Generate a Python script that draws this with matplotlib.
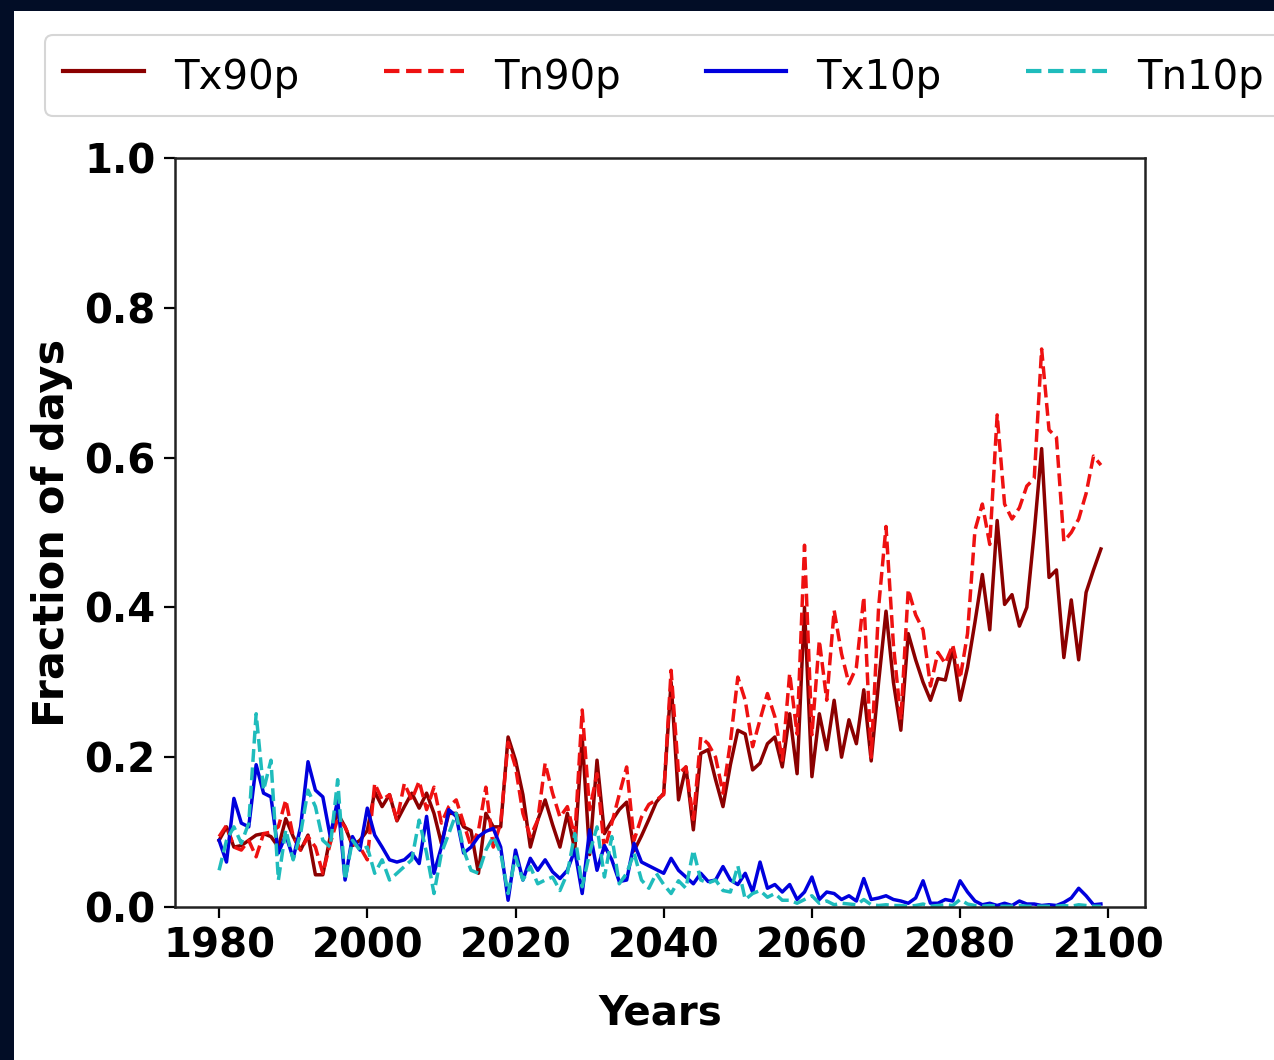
import numpy as np
import matplotlib
matplotlib.use("Agg")
import matplotlib.pyplot as plt
from matplotlib.patches import Rectangle

years = list(range(1980, 2100))

tx90p = [0.089, 0.107, 0.080, 0.082, 0.089, 0.096, 0.098, 0.094, 0.080, 0.118,
         0.094, 0.076, 0.096, 0.043, 0.043, 0.094, 0.125, 0.107, 0.082, 0.089,
         0.102, 0.154, 0.134, 0.150, 0.115, 0.134, 0.152, 0.132, 0.152, 0.125,
         0.085, 0.125, 0.125, 0.107, 0.102, 0.045, 0.125, 0.107, 0.107, 0.227,
         0.196, 0.150, 0.080, 0.116, 0.143, 0.110, 0.080, 0.125, 0.076, 0.227,
         0.070, 0.196, 0.098, 0.115, 0.130, 0.140, 0.075, 0.095, 0.117, 0.140,
         0.152, 0.300, 0.143, 0.187, 0.103, 0.205, 0.210, 0.170, 0.134, 0.190,
         0.236, 0.231, 0.183, 0.192, 0.218, 0.227, 0.187, 0.258, 0.178, 0.400,
         0.174, 0.258, 0.210, 0.276, 0.200, 0.250, 0.218, 0.290, 0.195, 0.300,
         0.395, 0.300, 0.236, 0.365, 0.330, 0.300, 0.276, 0.305, 0.303, 0.345,
         0.276, 0.320, 0.380, 0.444, 0.370, 0.516, 0.404, 0.417, 0.375, 0.400,
         0.500, 0.612, 0.440, 0.450, 0.333, 0.410, 0.330, 0.420, 0.450, 0.478]

tn90p = [0.094, 0.109, 0.080, 0.076, 0.089, 0.067, 0.098, 0.100, 0.107, 0.143,
         0.094, 0.076, 0.094, 0.080, 0.045, 0.085, 0.118, 0.107, 0.085, 0.080,
         0.063, 0.165, 0.143, 0.150, 0.116, 0.165, 0.143, 0.168, 0.130, 0.160,
         0.112, 0.134, 0.143, 0.112, 0.080, 0.102, 0.160, 0.080, 0.112, 0.220,
         0.187, 0.125, 0.094, 0.116, 0.192, 0.152, 0.120, 0.134, 0.094, 0.263,
         0.130, 0.178, 0.076, 0.112, 0.150, 0.187, 0.089, 0.120, 0.137, 0.143,
         0.150, 0.316, 0.178, 0.187, 0.117, 0.227, 0.218, 0.200, 0.152, 0.220,
         0.307, 0.276, 0.214, 0.250, 0.285, 0.254, 0.196, 0.312, 0.231, 0.483,
         0.230, 0.356, 0.276, 0.396, 0.338, 0.298, 0.320, 0.414, 0.200, 0.400,
         0.508, 0.350, 0.250, 0.424, 0.390, 0.370, 0.295, 0.340, 0.325, 0.350,
         0.305, 0.365, 0.503, 0.538, 0.484, 0.657, 0.538, 0.518, 0.533, 0.562,
         0.572, 0.745, 0.637, 0.627, 0.488, 0.500, 0.518, 0.552, 0.602, 0.590]

tx10p = [0.089, 0.060, 0.145, 0.112, 0.107, 0.190, 0.152, 0.147, 0.072, 0.096,
         0.065, 0.107, 0.194, 0.156, 0.147, 0.094, 0.143, 0.036, 0.094, 0.076,
         0.132, 0.096, 0.080, 0.063, 0.060, 0.063, 0.072, 0.058, 0.121, 0.045,
         0.080, 0.130, 0.121, 0.072, 0.080, 0.094, 0.101, 0.105, 0.080, 0.009,
         0.076, 0.036, 0.065, 0.049, 0.063, 0.047, 0.038, 0.049, 0.076, 0.018,
         0.103, 0.049, 0.082, 0.063, 0.034, 0.036, 0.085, 0.060, 0.055, 0.050,
         0.045, 0.065, 0.049, 0.040, 0.031, 0.045, 0.034, 0.036, 0.054, 0.036,
         0.030, 0.045, 0.020, 0.060, 0.025, 0.030, 0.020, 0.030, 0.010, 0.020,
         0.040, 0.010, 0.020, 0.018, 0.010, 0.015, 0.008, 0.038, 0.010, 0.012,
         0.015, 0.010, 0.008, 0.005, 0.012, 0.035, 0.005, 0.005, 0.010, 0.008,
         0.035, 0.020, 0.008, 0.003, 0.005, 0.002, 0.005, 0.002, 0.008, 0.004,
         0.004, 0.002, 0.003, 0.002, 0.006, 0.012, 0.025, 0.015, 0.003, 0.004]

tn10p = [0.049, 0.089, 0.107, 0.085, 0.112, 0.258, 0.156, 0.196, 0.036, 0.103,
         0.063, 0.098, 0.156, 0.134, 0.089, 0.080, 0.170, 0.036, 0.089, 0.076,
         0.080, 0.045, 0.063, 0.036, 0.045, 0.054, 0.063, 0.116, 0.072, 0.018,
         0.072, 0.098, 0.125, 0.076, 0.049, 0.045, 0.076, 0.094, 0.072, 0.018,
         0.067, 0.036, 0.054, 0.031, 0.036, 0.040, 0.022, 0.045, 0.098, 0.027,
         0.072, 0.107, 0.040, 0.094, 0.031, 0.045, 0.072, 0.036, 0.025, 0.045,
         0.030, 0.018, 0.035, 0.025, 0.076, 0.036, 0.032, 0.036, 0.022, 0.020,
         0.055, 0.010, 0.018, 0.022, 0.013, 0.018, 0.009, 0.009, 0.005, 0.010,
         0.015, 0.005, 0.008, 0.003, 0.005, 0.004, 0.003, 0.010, 0.003, 0.002,
         0.003, 0.002, 0.002, 0.001, 0.002, 0.004, 0.001, 0.002, 0.003, 0.002,
         0.010, 0.004, 0.002, 0.001, 0.002, 0.001, 0.001, 0.001, 0.002, 0.001,
         0.001, 0.001, 0.001, 0.001, 0.002, 0.001, 0.003, 0.002, 0.001, 0.001]

labels = ["Tx90p", "Tn90p", "Tx10p", "Tn10p"]
xticks = [1980, 2000, 2020, 2040, 2060, 2080, 2100]
yticks = [0.0, 0.2, 0.4, 0.6, 0.8, 1.0]

W, H = 1274, 1060
fig = plt.figure(figsize=(W / 100, H / 100), dpi=100, facecolor="#020d26")
fig.add_artist(Rectangle((14 / W, 0), 1 - 14 / W, 1 - 11 / H, transform=fig.transFigure,
                         facecolor="white", edgecolor="none", zorder=-10))

ax = fig.add_axes([175 / W, 1 - 907 / H, (1145 - 175) / W, (907 - 158) / H])
lw = 2.5
l1, = ax.plot(years, tx90p, color="#8b0000", lw=lw, linestyle="-")
l2, = ax.plot(years, tn90p, color="#ee1111", lw=lw, linestyle="--")
l3, = ax.plot(years, tx10p, color="#0000dd", lw=lw, linestyle="-")
l4, = ax.plot(years, tn10p, color="#1fbcbc", lw=lw, linestyle="--")

ax.set_ylim(0, 1.0)
ax.set_xticks(xticks)
ax.set_yticks(yticks)
ax.set_yticklabels([f"{v:.1f}" for v in yticks])
ax.tick_params(axis="both", labelsize=29, length=8, width=1.6, pad=6)
for lab in ax.get_xticklabels() + ax.get_yticklabels():
    lab.set_fontweight("bold")
for sp in ax.spines.values():
    sp.set_linewidth(1.8)
    sp.set_color("#222222")

ax.set_xlabel("Years", fontsize=29, fontweight="bold")
ax.set_ylabel("Fraction of days", fontsize=31, fontweight="bold")
ax.xaxis.set_label_coords(0.5, -0.115)
ax.yaxis.set_label_coords(-0.105, 0.5)

leg = fig.legend([l1, l2, l3, l4], labels, loc="upper left",
                 bbox_to_anchor=(45 / W, 1 - 35 / H), ncol=4, fontsize=29,
                 frameon=True, fancybox=True, handlelength=2.0,
                 handleheight=1.3, handletextpad=0.75, columnspacing=2.1,
                 borderaxespad=0, borderpad=0.45)
leg.get_frame().set_edgecolor("#cccccc")
leg.get_frame().set_linewidth(1.5)
for h in leg.get_lines():
    h.set_linewidth(3.0)

fig.savefig("out.png", dpi=100, facecolor=fig.get_facecolor())
